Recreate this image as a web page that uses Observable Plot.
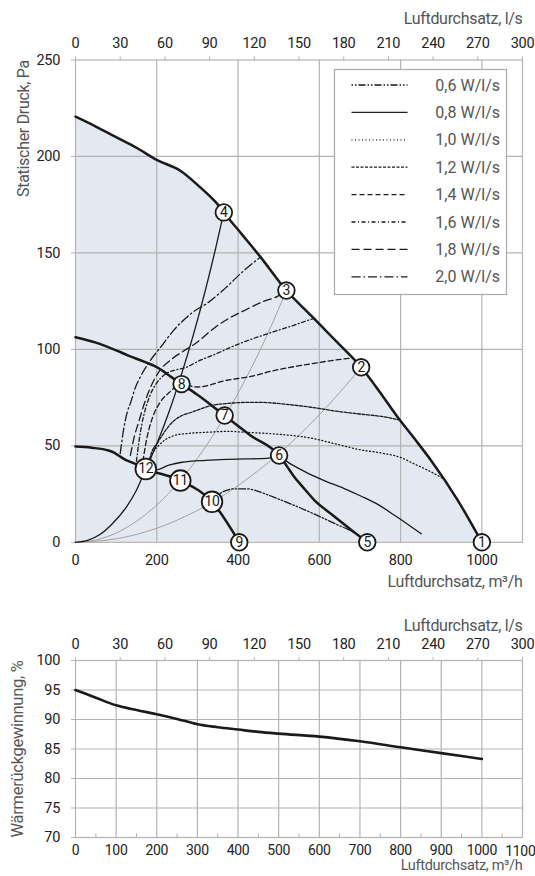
<!DOCTYPE html>
<html><head><meta charset="utf-8">
<script src="https://cdn.jsdelivr.net/npm/d3@7"></script>
<script src="https://cdn.jsdelivr.net/npm/@observablehq/plot@0.6"></script>
<style>
html,body{margin:0;padding:0;background:#fff;overflow:hidden;}
#chart svg{display:block;}
</style></head><body><div id="chart"></div>
<script>
// ---------- data ----------
const flowTicks = [0, 200, 400, 600, 800, 1000];
const flowTicksFine = [0, 100, 200, 300, 400, 500, 600, 700, 800, 900, 1000, 1100];
const flowMinorTicks = [50, 150, 250, 350, 450, 550, 650, 750, 850, 950, 1050];
const lsTicks = [0, 30, 60, 90, 120, 150, 180, 210, 240, 270, 300];
const pressureTicks = [0, 50, 100, 150, 200, 250];
const efficiencyTicks = [70, 75, 80, 85, 90, 95, 100];

// fan curves [m3/h, Pa]
const fanMax = [[0,220.6],[50,215.5],[100,210],[150,204.5],[200,198.2],[258,192.6],[307,184],[335,178.5],[349,175.4],[365,171],[410,159.5],[456,147.7],[519,130.5],[580,117.5],[640,104.5],[703,90.7],[750,77.5],[793,64.8],[835,53.5],[875,42.4],[940,22],[1000,0]];
const fanMid = [[0,106.3],[50,103.5],[100,99.5],[130,96.8],[170,93.5],[200,90.8],[237,85.5],[261,82],[300,76.5],[367,65.7],[430,55.5],[501,45],[520,39.5],[538,34],[560,28.5],[587,22],[630,14.5],[678,6.5],[718,0]];
const fanLow = [[0,49.6],[40,49],[81,47.6],[95,46.5],[106,45],[122,42.9],[143,41],[173,38],[258,32],[336,21],[403,0]];

// system curves
const system4 = [[0,0],[30,1],[60,4],[90,9.5],[126,18.5],[150,27],[173,38],[200,51],[230,67.5],[260,86.5],[290,107.5],[320,131],[345,152.5],[365,171]];
const system3 = [[0,0],[50,1.2],[100,4.8],[150,10.9],[200,19.3],[258,32.1],[300,43.5],[367,65.1],[420,85.2],[470,106.7],[519,130.5]];
const system2 = [[0,0],[100,1.8],[200,7.3],[270,13.4],[336,20.7],[400,29.4],[450,37.2],[501,46],[550,55.5],[600,66.1],[650,77.6],[703,90.7]];

// specific fan power iso-lines
const sfp06 = [[350,24],[361,26],[390,27.7],[423,27.7],[455,26],[488,23.4],[540,19],[587,14.7],[640,9.5],[686,5],[708,2]];
const sfp08 = [[173,38],[196,37.5],[230,40],[262,41.5],[320,42.5],[370,43],[418,43.2],[470,43.5],[501,44],[530,40.5],[570,36],[612,32],[660,28],[702,24],[745,19.5],[785,14],[820,9],[851,4.4]];
const sfp10 = [[182,42],[192,47],[204,50],[220,53],[246,55.5],[280,56.5],[320,57],[375,57.5],[420,57],[500,56],[580,54],[640,51],[700,48],[760,46],[800,44],[830,41],[870,37],[905,33]];
const sfp12 = [[182,43],[190,48],[200,51],[215,56],[237,62],[260,65.5],[287,67.5],[336,71],[375,72],[418,72.5],[457,72.5],[520,71.5],[580,70],[640,68],[700,66.5],[760,65],[795,63.5]];
const sfp14 = [[166,42],[172,50],[180,58],[192,66],[208,72.5],[230,77.5],[261,82],[299,80.5],[373,84],[431,86],[488,89],[579,92.5],[640,94.5],[680,95.5]];
const sfp16 = [[150,42],[156,52],[163,61],[172,69],[183,76],[198,82],[220,87],[250,89.5],[270,90.5],[303,94],[344,97.5],[381,101],[410,103.5],[464,107.5],[530,112],[585,116]];
const sfp18 = [[135,45],[145,55],[155,62],[168,71],[180,78],[204,88],[237,95],[265,99],[295,103],[344,111.5],[381,116.5],[414,120],[464,125],[497,127.5],[515,130]];
const sfp20 = [[110,46],[118,58],[128,68],[135,72],[147,80],[159,85.5],[180,93],[209,101],[242,110],[287,119],[328,124.5],[370,132],[410,140],[456,148]];

const legendLabels = ["0,6 W/l/s","0,8 W/l/s","1,0 W/l/s","1,2 W/l/s","1,4 W/l/s","1,6 W/l/s","1,8 W/l/s","2,0 W/l/s"];

// operating points
const pointLabels = ["1","2","3","4","5","6","7","8","9","10","11","12"];
const pointFlow = [1000,703,519,365,718,501,367,261,403,336,258,173];
const pointPressure = [0,90.7,130.5,171,0,45,65.7,82,0,21,32,38];

// heat recovery efficiency [m3/h, %]
const efficiency = [[0,95],[50,93.7],[100,92.4],[150,91.6],[200,90.9],[250,90.1],[300,89.2],[350,88.7],[400,88.3],[450,87.9],[500,87.6],[600,87.1],[700,86.3],[800,85.3],[900,84.3],[1000,83.3]];

// ---------- styling ----------
const FONT = "Roboto, 'Noto Sans', sans-serif";
const GRID = "#b3b3b3";
const INK = "#1a1a1a";
const LABEL = "#555";
const FILL = "#e4e8f0";
const X = d => d[0], Y = d => d[1];
const isoSeries = [sfp06, sfp08, sfp10, sfp12, sfp14, sfp16, sfp18, sfp20];
const isoDash = ["1.5,2,1.5,2,7,2", null, "1,2.5", "3,1.5", "5,3", "4,2.5,1,2.5", "8,4", "9,3,1.5,3"];
const lsToFlow = v => v * 1100 / 300;
const flowToLs = v => String(Math.round(v * 300 / 1100));
const plain = v => String(v);
const points = pointLabels.map((n, i) => ({n, q: pointFlow[i], p: pointPressure[i]}));
const axisStyle = {fontFamily: FONT, fontSize: "14.5px", letterSpacing: "-0.3px", color: "#222", background: "white"};

const topChart = Plot.plot({
  width: 535, height: 600,
  marginTop: 59.5, marginBottom: 58.2, marginLeft: 75, marginRight: 13,
  x: {domain: [0, 1100]}, y: {domain: [0, 250]},
  style: axisStyle,
  marks: [
    Plot.areaY(fanMax, {x: X, y: Y, fill: FILL, curve: "monotone-x"}),
    Plot.gridX(flowTicks.filter(v => v > 0), {stroke: GRID, strokeOpacity: 1, strokeWidth: 1.2}),
    Plot.gridY(pressureTicks.filter(v => v > 0 && v < 250), {stroke: GRID, strokeOpacity: 1, strokeWidth: 1.2}),
    Plot.frame({stroke: GRID, strokeWidth: 1.2}),
    Plot.axisX({anchor: "bottom", ticks: flowTicks, tickFormat: plain, tickSize: 0, tickPadding: 12, label: null}),
    Plot.axisX({anchor: "top", ticks: lsTicks.map(lsToFlow), tickFormat: flowToLs, tickSize: 4, tickPadding: 8, label: null, stroke: GRID}),
    Plot.axisY({ticks: pressureTicks, tickFormat: plain, tickSize: 4, tickPadding: 11.5, label: null, stroke: GRID}),
    Plot.text(["Luftdurchsatz, l/s"], {text: d => d, frameAnchor: "top-right", dy: -47, textAnchor: "end", fill: LABEL, fontSize: 16}),
    Plot.text(["Luftdurchsatz, m³/h"], {text: d => d, frameAnchor: "bottom-right", dy: 45, textAnchor: "end", fill: LABEL, fontSize: 16}),
    Plot.text(["Statischer Druck, Pa"], {text: d => d, frameAnchor: "top-left", dx: -58, rotate: -90, textAnchor: "end", fill: LABEL, fontSize: 16}),
    Plot.line(system3, {x: X, y: Y, stroke: "#9a9a9a", strokeWidth: 0.9, curve: "monotone-x"}),
    Plot.line(system2, {x: X, y: Y, stroke: "#9a9a9a", strokeWidth: 0.9, curve: "monotone-x"}),
    Plot.line(system4, {x: X, y: Y, stroke: INK, strokeWidth: 1.3, curve: "monotone-x"}),
    ...isoSeries.map((s, i) => Plot.line(s, {x: X, y: Y, stroke: INK, strokeWidth: 1.3, strokeDasharray: isoDash[i] || undefined, curve: "monotone-x"})),
    Plot.line(fanLow, {x: X, y: Y, stroke: INK, strokeWidth: 2.5, curve: "monotone-x"}),
    Plot.line(fanMid, {x: X, y: Y, stroke: INK, strokeWidth: 2.5, curve: "monotone-x"}),
    Plot.line(fanMax, {x: X, y: Y, stroke: INK, strokeWidth: 2.5, curve: "monotone-x"}),
    Plot.dot(points.filter(d => d.n.length === 1), {x: "q", y: "p", r: 8.3, fill: "white", stroke: INK, strokeWidth: 1.8}),
    Plot.dot(points.filter(d => d.n.length > 1), {x: "q", y: "p", r: 10.3, fill: "white", stroke: INK, strokeWidth: 1.8}),
    Plot.text(points, {x: "q", y: "p", text: "n", fill: INK, fontSize: 14})
  ]
});

// legend box (drawn in pixel space on top of the chart)
{
  const svg = d3.select(topChart);
  const g = svg.append("g").attr("font-family", FONT);
  g.append("rect").attr("x", 334.5).attr("y", 69.5).attr("width", 172).attr("height", 225)
    .attr("fill", "white").attr("stroke", "#aaa").attr("stroke-width", 1.2);
  legendLabels.forEach((lab, i) => {
    const yy = 85 + i * 27.4;
    const ln = g.append("line").attr("x1", 351.5).attr("x2", 407.5).attr("y1", yy).attr("y2", yy)
      .attr("stroke", INK).attr("stroke-width", 1.3);
    if (isoDash[i]) ln.attr("stroke-dasharray", isoDash[i]);
    g.append("text").attr("x", 500).attr("y", yy).attr("dy", "0.35em").attr("text-anchor", "end")
      .attr("fill", LABEL).attr("font-size", 16).attr("letter-spacing", "0").text(lab);
  });
}

const lastFlowTick = flowTicksFine[flowTicksFine.length - 1];
const bottomChart = Plot.plot({
  width: 535, height: 276,
  marginTop: 60, marginBottom: 39, marginLeft: 75, marginRight: 13,
  x: {domain: [0, 1100]}, y: {domain: [70, 100]},
  style: {...axisStyle, fontSize: "14px"},
  marks: [
    Plot.gridX(flowTicksFine.filter(v => v > 0 && v < 1100), {stroke: GRID, strokeOpacity: 1, strokeWidth: 1.2}),
    Plot.gridY(efficiencyTicks.filter(v => v > 70 && v < 100), {stroke: GRID, strokeOpacity: 1, strokeWidth: 1.2}),
    Plot.ruleX(flowMinorTicks, {x: d => d, y1: 70, y2: 70.6, stroke: GRID, strokeWidth: 1}),
    Plot.frame({stroke: GRID, strokeWidth: 1.2}),
    Plot.axisX({anchor: "bottom", ticks: flowTicksFine.slice(0, -1), tickFormat: plain, tickSize: 0, tickPadding: 8, label: null}),
    Plot.text([lastFlowTick], {x: d => d, y: () => 70, text: plain, dy: 14.5, dx: 13, textAnchor: "end", fill: "#222", fontSize: 14}),
    Plot.axisX({anchor: "top", ticks: lsTicks.map(lsToFlow), tickFormat: flowToLs, tickSize: 4, tickPadding: 8, label: null, stroke: GRID, fontSize: 14.5}),
    Plot.axisY({ticks: efficiencyTicks, tickFormat: plain, tickSize: 4, tickPadding: 11.5, label: null, stroke: GRID, fontSize: 14.5}),
    Plot.text(["Luftdurchsatz, l/s"], {text: d => d, frameAnchor: "top-right", dy: -40.5, textAnchor: "end", fill: LABEL, fontSize: 16}),
    Plot.text(["Luftdurchsatz, m³/h"], {text: d => d, frameAnchor: "bottom-right", dy: 32.5, textAnchor: "end", fill: LABEL, fontSize: 14.5}),
    Plot.text(["Wärmerückgewinnung, %"], {text: d => d, frameAnchor: "left", dx: -58, rotate: -90, textAnchor: "middle", fill: LABEL, fontSize: 16.5}),
    Plot.line(efficiency, {x: X, y: Y, stroke: INK, strokeWidth: 2.6, curve: "monotone-x"})
  ]
});

const root = document.getElementById("chart");
root.appendChild(topChart);
root.appendChild(bottomChart);
</script>
</body></html>
